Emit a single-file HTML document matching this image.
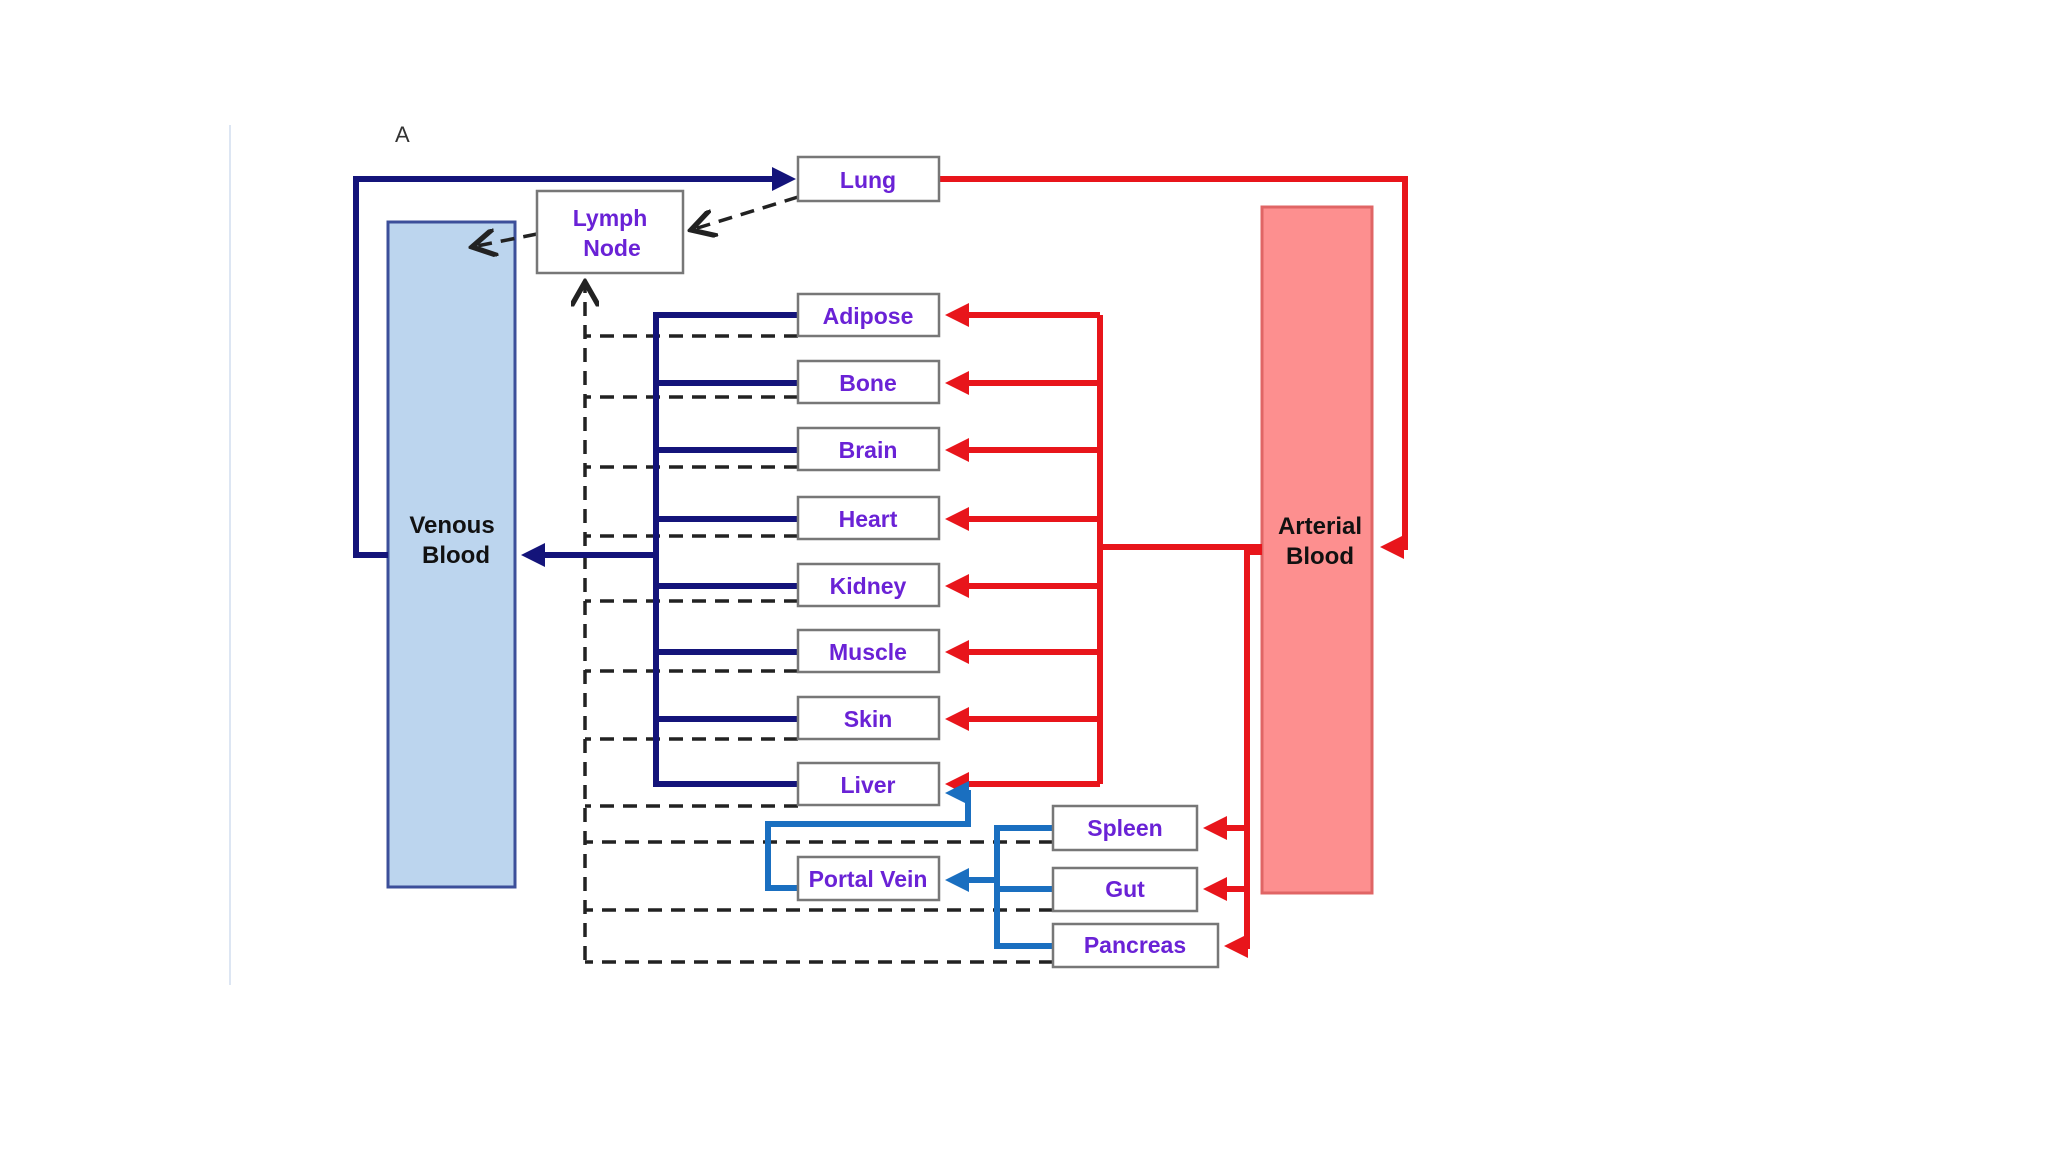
<!DOCTYPE html>
<html><head><meta charset="utf-8"><style>
html,body{margin:0;padding:0;background:#fff;}
svg{display:block}
text{font-family:"Liberation Sans",sans-serif;font-weight:bold;}
</style></head><body>
<svg width="2048" height="1152" viewBox="0 0 2048 1152" xmlns="http://www.w3.org/2000/svg">
<defs>
<marker id="an" markerWidth="4" markerHeight="4" refX="3" refY="2" orient="auto" markerUnits="strokeWidth"><path d="M0,0 L4,2 L0,4 z" fill="#14147a"/></marker>
<marker id="ar" markerWidth="4" markerHeight="4" refX="3" refY="2" orient="auto" markerUnits="strokeWidth"><path d="M0,0 L4,2 L0,4 z" fill="#e8151b"/></marker>
<marker id="ab" markerWidth="4" markerHeight="4" refX="3" refY="2" orient="auto" markerUnits="strokeWidth"><path d="M0,0 L4,2 L0,4 z" fill="#1a6fc0"/></marker>
<marker id="ak" markerWidth="8" markerHeight="8" refX="7" refY="4" orient="auto" markerUnits="strokeWidth"><path d="M0,0 L7,4 L0,8" fill="none" stroke="#222" stroke-width="1.5"/></marker>
</defs>
<line x1="230" y1="125" x2="230" y2="985" stroke="#dde6f3" stroke-width="2"/>
<text x="395" y="142" font-size="22" style="font-weight:normal" fill="#333">A</text>

<rect x="388" y="222" width="127" height="665" fill="#bcd5ee" stroke="#3c4f9a" stroke-width="3"/>
<rect x="1262" y="207" width="110" height="686" fill="#fd8f8f" stroke="#e06565" stroke-width="3"/>
<text x="452" y="533" font-size="24" text-anchor="middle" fill="#111">Venous</text>
<text x="456" y="563" font-size="24" text-anchor="middle" fill="#111">Blood</text>
<text x="1320" y="534" font-size="24" text-anchor="middle" fill="#111">Arterial</text>
<text x="1320" y="564" font-size="24" text-anchor="middle" fill="#111">Blood</text>

<g stroke="#222" stroke-width="3.5" stroke-dasharray="14,9" fill="none">
<line x1="585" y1="960" x2="585" y2="282" marker-end="url(#ak)"/>
<line x1="798" y1="336" x2="585" y2="336"/>
<line x1="798" y1="397" x2="585" y2="397"/>
<line x1="798" y1="467" x2="585" y2="467"/>
<line x1="798" y1="536" x2="585" y2="536"/>
<line x1="798" y1="601" x2="585" y2="601"/>
<line x1="798" y1="671" x2="585" y2="671"/>
<line x1="798" y1="739" x2="585" y2="739"/>
<line x1="798" y1="806" x2="585" y2="806"/>
<line x1="1053" y1="842" x2="585" y2="842"/>
<line x1="1053" y1="910" x2="585" y2="910"/>
<line x1="1053" y1="962" x2="585" y2="962"/>
<line x1="798" y1="197" x2="691" y2="230" marker-end="url(#ak)"/>
<line x1="537" y1="234" x2="472" y2="247" marker-end="url(#ak)"/>
</g>

<g stroke="#14147a" stroke-width="6" fill="none">
<polyline points="388,555 356,555 356,179 790,179" marker-end="url(#an)"/>
<polyline points="798,315 656,315 656,784 798,784"/>
<line x1="656" y1="383" x2="798" y2="383"/>
<line x1="656" y1="450" x2="798" y2="450"/>
<line x1="656" y1="519" x2="798" y2="519"/>
<line x1="656" y1="586" x2="798" y2="586"/>
<line x1="656" y1="652" x2="798" y2="652"/>
<line x1="656" y1="719" x2="798" y2="719"/>
<line x1="656" y1="555" x2="527" y2="555" marker-end="url(#an)"/>
</g>

<g stroke="#e8151b" stroke-width="6" fill="none">
<polyline points="939,179 1405,179 1405,547 1386,547" marker-end="url(#ar)"/>
<line x1="1262" y1="547" x2="1100" y2="547"/>
<polyline points="1100,315 1100,784"/>
<line x1="1100" y1="315" x2="951" y2="315" marker-end="url(#ar)"/>
<line x1="1100" y1="383" x2="951" y2="383" marker-end="url(#ar)"/>
<line x1="1100" y1="450" x2="951" y2="450" marker-end="url(#ar)"/>
<line x1="1100" y1="519" x2="951" y2="519" marker-end="url(#ar)"/>
<line x1="1100" y1="586" x2="951" y2="586" marker-end="url(#ar)"/>
<line x1="1100" y1="652" x2="951" y2="652" marker-end="url(#ar)"/>
<line x1="1100" y1="719" x2="951" y2="719" marker-end="url(#ar)"/>
<line x1="1100" y1="784" x2="951" y2="784" marker-end="url(#ar)"/>
<polyline points="1262,552 1247,552 1247,946"/>
<line x1="1247" y1="828" x2="1209" y2="828" marker-end="url(#ar)"/>
<line x1="1247" y1="889" x2="1209" y2="889" marker-end="url(#ar)"/>
<line x1="1250" y1="946" x2="1230" y2="946" marker-end="url(#ar)"/>
</g>

<g stroke="#1a6fc0" stroke-width="6" fill="none">
<polyline points="1053,828 997,828 997,946 1053,946"/>
<line x1="997" y1="889" x2="1053" y2="889"/>
<line x1="997" y1="880" x2="951" y2="880" marker-end="url(#ab)"/>
<polyline points="798,888 768,888 768,824 968,824 968,793 951,793" marker-end="url(#ab)"/>
</g>

<g fill="#fff" stroke="#777" stroke-width="2.5">
<rect x="798" y="157" width="141" height="44"/>
<rect x="537" y="191" width="146" height="82"/>
<rect x="798" y="294" width="141" height="42"/>
<rect x="798" y="361" width="141" height="42"/>
<rect x="798" y="428" width="141" height="42"/>
<rect x="798" y="497" width="141" height="42"/>
<rect x="798" y="564" width="141" height="42"/>
<rect x="798" y="630" width="141" height="42"/>
<rect x="798" y="697" width="141" height="42"/>
<rect x="798" y="763" width="141" height="42"/>
<rect x="798" y="857" width="141" height="43"/>
<rect x="1053" y="806" width="144" height="44"/>
<rect x="1053" y="868" width="144" height="43"/>
<rect x="1053" y="924" width="165" height="43"/>
</g>
<g font-size="23" fill="#6a22d6" text-anchor="middle">
<text x="868" y="188">Lung</text>
<text x="610" y="226">Lymph</text>
<text x="612" y="256">Node</text>
<text x="868" y="324">Adipose</text>
<text x="868" y="391">Bone</text>
<text x="868" y="458">Brain</text>
<text x="868" y="527">Heart</text>
<text x="868" y="594">Kidney</text>
<text x="868" y="660">Muscle</text>
<text x="868" y="727">Skin</text>
<text x="868" y="793">Liver</text>
<text x="868" y="887">Portal Vein</text>
<text x="1125" y="836">Spleen</text>
<text x="1125" y="897">Gut</text>
<text x="1135" y="953">Pancreas</text>
</g>
</svg>
</body></html>
